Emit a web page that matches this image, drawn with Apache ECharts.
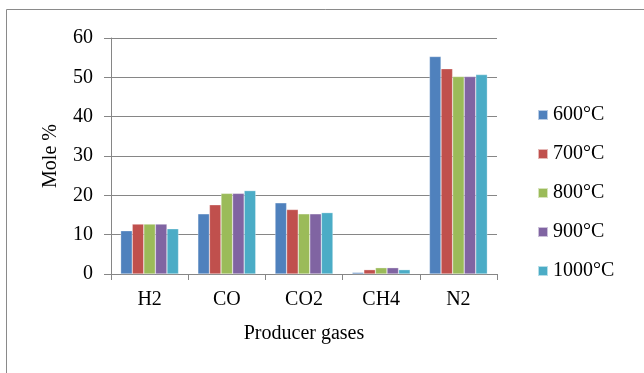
<!DOCTYPE html>
<html><head><meta charset="utf-8">
<script src="https://cdn.jsdelivr.net/npm/echarts@6/dist/echarts.min.js"></script>
<style>html,body{margin:0;padding:0;background:#fff}#c{width:644px;height:373px}</style>
</head><body><div id="c"></div>
<script>
const categories = ['H2','CO','CO2','CH4','N2'];
const seriesNames = ['600°C','700°C','800°C','900°C','1000°C'];
const s600 = [11.0, 15.3, 18.1, 0.4, 55.3];
const s700 = [12.7, 17.6, 16.4, 1.1, 52.2];
const s800 = [12.7, 20.5, 15.3, 1.6, 50.2];
const s900 = [12.7, 20.5, 15.3, 1.6, 50.2];
const s1000 = [11.5, 21.2, 15.6, 1.1, 50.7];
const yTicks = [0, 10, 20, 30, 40, 50, 60];
const colors = ['#4F81BD','#C0504D','#9BBB59','#8064A2','#4BACC6'];
const values = [s600, s700, s800, s900, s1000];
const font = '"Liberation Serif", "Times New Roman", serif';
const chart = echarts.init(document.getElementById('c'));
chart.setOption({
  animation: false,
  backgroundColor: '#fff',
  color: colors,
  graphic: [{type:'rect', shape:{x:6.5,y:9.5,width:700,height:400}, style:{fill:'none', stroke:'#8a8a8a', lineWidth:1}, silent:true}],
  grid: {left:111, right:147, top:38, bottom:99, containLabel:false},
  legend: {
    orient:'vertical', left:532, top:100, itemWidth:10, itemHeight:10, itemGap:19, icon:'rect',
    textStyle:{fontFamily:font, fontSize:20, color:'#000'},
    data: seriesNames
  },
  xAxis: {
    type:'category', data:categories,
    name:'Producer gases', nameLocation:'middle', nameGap:50,
    nameTextStyle:{fontFamily:font, fontSize:20, color:'#000'},
    axisLine:{lineStyle:{color:'#868686', width:1}},
    axisTick:{show:true, length:6, lineStyle:{color:'#868686'}},
    axisLabel:{fontFamily:font, fontSize:20, color:'#000', margin:16}
  },
  yAxis: {
    type:'value', min:yTicks[0], max:yTicks[yTicks.length-1], interval:10,
    name:'Mole %', nameLocation:'middle', nameGap:50, nameRotate:90,
    nameTextStyle:{fontFamily:font, fontSize:20, color:'#000'},
    axisLine:{show:true, lineStyle:{color:'#868686'}},
    axisTick:{show:true, length:7, lineStyle:{color:'#868686'}},
    axisLabel:{fontFamily:font, fontSize:20, color:'#000', margin:18},
    splitLine:{lineStyle:{color:'#868686', width:1}}
  },
  series: seriesNames.map((n,i)=>({
    name:n, type:'bar', data:values[i], barGap:'0%', barCategoryGap:'25%',
    itemStyle:{color:colors[i], borderColor:'rgba(255,255,255,0.6)', borderWidth:0.5}
  }))
});
</script></body></html>
